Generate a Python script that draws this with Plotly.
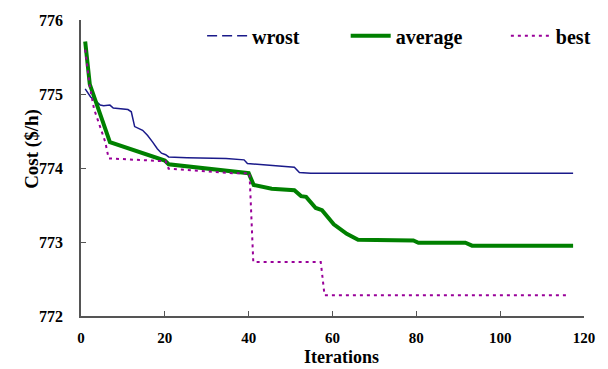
import plotly.graph_objects as go

# ---- data ----
wrost_x = [1, 2.3, 3.4, 4.6, 5.4, 6.9, 7.7, 11.2, 12, 12.8, 14.7, 15.9, 17.1, 18.2, 19.2,
           20.2, 20.9, 25.3, 34.6, 38.9, 39.7, 45.5, 50.9, 52.1, 54.8, 117.4]
wrost_y = [775.07, 774.96, 774.91, 774.85, 774.84, 774.85, 774.81, 774.79, 774.76, 774.56,
           774.51, 774.44, 774.35, 774.26, 774.20, 774.18, 774.15, 774.14, 774.13, 774.11,
           774.06, 774.03, 774.01, 773.94, 773.93, 773.93]

avg_x = [1, 2.1, 6.9, 14.7, 20.0, 20.9, 30, 40, 41.2, 45.5, 50.9, 52.5, 53.7, 56, 57.5,
         60.3, 63.4, 66.1, 79.3, 80.5, 91.7, 93.3, 117.4]
avg_y = [775.71, 775.13, 774.35, 774.20, 774.10, 774.05, 773.99, 773.93, 773.77, 773.72,
         773.70, 773.62, 773.61, 773.46, 773.43, 773.24, 773.11, 773.03, 773.02, 772.99,
         772.99, 772.95, 772.95]

best_x = [1, 2.1, 3.1, 5.8, 6.6, 20.2, 20.9, 36.2, 40.2, 41.1, 57.2, 58.1, 116.6]
best_y = [775.60, 775.10, 774.80, 774.35, 774.13, 774.09, 773.99, 773.93, 773.93, 772.73,
          772.73, 772.28, 772.28]

x_ticks = [0, 20, 40, 60, 80, 100, 120]
y_ticks = [772, 773, 774, 775, 776]

BLUE = "#1a1a8a"
GREEN = "#008000"
PURPLE = "#990099"
FONT = "Liberation Serif"

fig = go.Figure()
fig.add_trace(go.Scatter(x=wrost_x, y=wrost_y, mode="lines", name="wrost",
                         line=dict(color=BLUE, width=1.5), showlegend=False))
fig.add_trace(go.Scatter(x=[None], y=[None], mode="lines", name="wrost",
                         line=dict(color=BLUE, width=1.5, dash="10px,5px"), legend="legend"))
fig.add_trace(go.Scatter(x=avg_x, y=avg_y, mode="lines", name="average",
                         line=dict(color=GREEN, width=4), legend="legend2"))
fig.add_trace(go.Scatter(x=best_x, y=best_y, mode="lines", name="best",
                         line=dict(color=PURPLE, width=2, dash="3px,4px"), legend="legend3"))

L, R, T, B = 81, 12, 17, 53
W, H = 608, 369
pw = W - L - R
ph = H - T - B

def px_x(p):
    return (p - L) / pw

def px_y(p):
    return 1 - (p - T) / ph

leg_common = dict(orientation="h", yanchor="middle", xanchor="left", bgcolor="rgba(0,0,0,0)",
                  font=dict(family=FONT, size=20, color="black", weight="bold"), itemwidth=40)

fig.update_layout(
    width=W, height=H,
    margin=dict(l=L, r=R, t=T, b=B),
    paper_bgcolor="white", plot_bgcolor="white",
    font=dict(family=FONT, color="black"),
    legend=dict(x=px_x(205), y=px_y(33), **leg_common),
    legend2=dict(x=px_x(352), y=px_y(33), **leg_common),
    legend3=dict(x=px_x(516), y=px_y(33), **leg_common),
    xaxis=dict(range=[0, 120], tickvals=x_ticks, ticktext=[str(v) for v in x_ticks],
               showline=True, linecolor="#555555", linewidth=1.5, ticks="inside", ticklen=5,
               tickcolor="#555555", showgrid=False, zeroline=False, ticklabelstandoff=7,
               tickfont=dict(family=FONT, size=15, color="black", weight="bold")),
    yaxis=dict(range=[772, 776], tickvals=y_ticks, ticktext=[str(v) for v in y_ticks],
               showline=True, linecolor="#555555", linewidth=1.5, ticks="inside", ticklen=5,
               tickcolor="#555555", showgrid=False, zeroline=False, ticklabelstandoff=13,
               tickfont=dict(family=FONT, size=16, color="black", weight="bold")),
    annotations=[
        dict(text="Iterations", xref="paper", yref="paper", x=px_x(348), y=px_y(357.5),
             xanchor="center", yanchor="middle", showarrow=False,
             font=dict(family=FONT, size=18, color="black", weight="bold")),
        dict(text="Cost ($/h)", xref="paper", yref="paper", x=px_x(31), y=px_y(147),
             xanchor="center", yanchor="middle", showarrow=False, textangle=-90,
             font=dict(family=FONT, size=19, color="black", weight="bold")),
    ],
)

fig.write_html("out.html")
